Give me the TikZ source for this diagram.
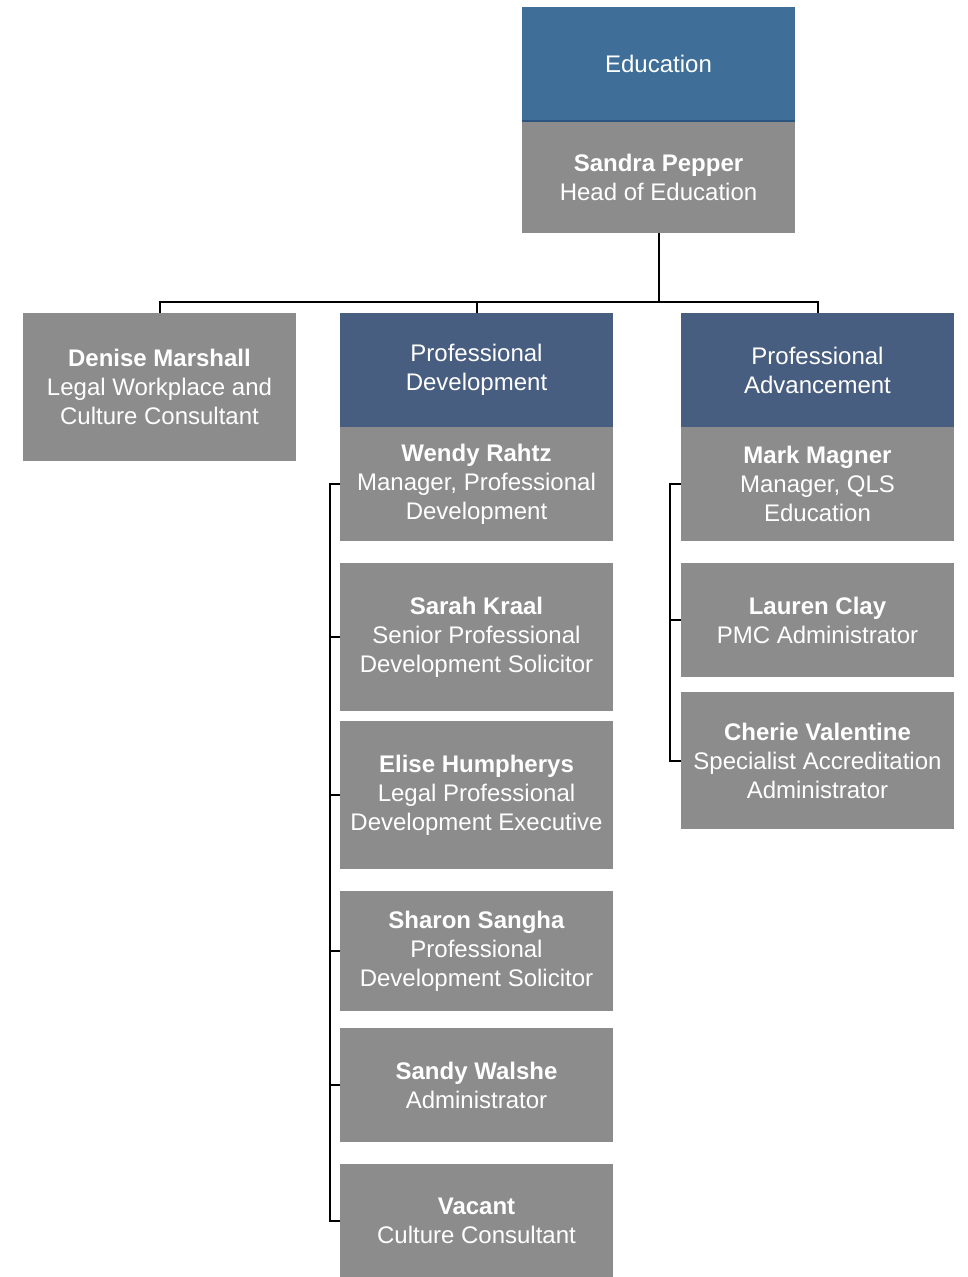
\documentclass[tikz,border=0pt]{standalone}
\usepackage{fontspec}
\setmainfont{Liberation Sans}
\definecolor{topblue}{HTML}{3F6F98}
\definecolor{hdrblue}{HTML}{485E80}
\definecolor{boxgray}{HTML}{8C8C8C}
\definecolor{divblue}{HTML}{2B5580}
\newcommand\obox[7]{\node[obox,fill=#6,minimum width={(#4-#2)*0.75pt},minimum height={(#5-#3)*0.75pt}] (#1) at ({(#2+#4)/2},{(#3+#5)/2}) {#7};}
\begin{document}
\begin{tikzpicture}[x=0.75pt,y=-0.75pt,
  obox/.style={rectangle,draw=none,inner sep=0pt,text=white,align=center,
    font=\fontsize{18}{21.75}\selectfont},
  conn/.style={line width=1.5pt,draw=black}]
\useasboundingbox (0,0) rectangle (967,1277);
% top
\obox{edu}{522}{7}{795}{121}{topblue}{Education}
\obox{sandra}{522}{121}{795}{233}{boxgray}{\textbf{Sandra Pepper}\\Head of Education}
\draw[divblue,line width=1.5pt] (edu.south west) -- (edu.south east);
% second row
\obox{denise}{23}{313}{296}{461}{boxgray}{\textbf{Denise Marshall}\\Legal Workplace and\\Culture Consultant}
\obox{pd}{340}{313}{613}{427}{hdrblue}{Professional\\Development}
\obox{pa}{681}{313}{954}{427}{hdrblue}{Professional\\Advancement}
% left column
\obox{wendy}{340}{427}{613}{541}{boxgray}{\textbf{Wendy Rahtz}\\Manager, Professional\\Development}
\obox{sarah}{340}{563}{613}{711}{boxgray}{\textbf{Sarah Kraal}\\Senior Professional\\Development Solicitor}
\obox{elise}{340}{721}{613}{869}{boxgray}{\textbf{Elise Humpherys}\\Legal Professional\\Development Executive}
\obox{sharon}{340}{891}{613}{1011}{boxgray}{\textbf{Sharon Sangha}\\Professional\\Development Solicitor}
\obox{sandy}{340}{1028}{613}{1142}{boxgray}{\textbf{Sandy Walshe}\\Administrator}
\obox{vacant}{340}{1164}{613}{1277}{boxgray}{\textbf{Vacant}\\Culture Consultant}
% right column
\obox{mark}{681}{427}{954}{541}{boxgray}{\textbf{Mark Magner}\\Manager, QLS\\Education}
\obox{lauren}{681}{563}{954}{677}{boxgray}{\textbf{Lauren Clay}\\PMC Administrator}
\obox{cherie}{681}{692}{954}{829}{boxgray}{\textbf{Cherie Valentine}\\Specialist Accreditation\\Administrator}
% connectors
\coordinate (bus) at (658.5,302);
\draw[conn] (sandra.south) -- (bus);
\draw[conn] (denise.north) |- (bus);
\draw[conn] (pd.north) |- (bus);
\draw[conn] (pa.north) |- (bus);
\draw[conn] (wendy.west) -- ++(-10,0) |- (vacant.west);
\foreach \n in {sarah,elise,sharon,sandy} \draw[conn] (\n.west) -- ++(-10,0);
\draw[conn] (mark.west) -- ++(-11,0) |- (cherie.west);
\draw[conn] (lauren.west) -- ++(-11,0);
\end{tikzpicture}
\end{document}
